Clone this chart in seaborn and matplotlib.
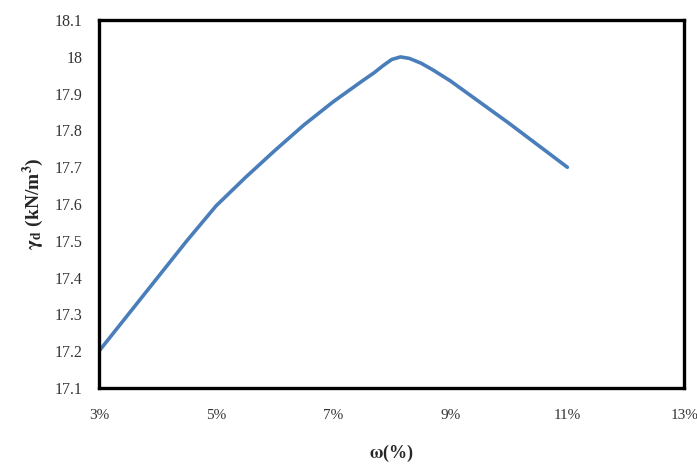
import pandas as pd
import seaborn as sns
import matplotlib.pyplot as plt
import numpy as np
from matplotlib.ticker import FuncFormatter, MultipleLocator

# water content (%) and dry unit weight (kN/m3)
moisture = [3, 4, 4.5, 5, 5.5, 6, 6.5, 7, 7.5, 7.7, 7.85, 8.0, 8.15, 8.3, 8.5, 8.7, 9, 10, 11]
gamma_d = [17.2, 17.40, 17.50, 17.595, 17.672, 17.745, 17.815, 17.878, 17.935, 17.957, 17.976,
           17.993, 18.0, 17.996, 17.983, 17.965, 17.935, 17.82, 17.7]
x_ticks = [3, 5, 7, 9, 11, 13]

df = pd.DataFrame({"w": moisture, "gd": gamma_d})

sns.set_style("white")
plt.rcParams['font.family'] = ['Liberation Serif', 'DejaVu Serif']
plt.rcParams['mathtext.fontset'] = 'stix'

fig = plt.figure(figsize=(6.97, 4.68), dpi=100)
ax = fig.add_axes([0.142, 0.171, 0.840, 0.786])

sns.lineplot(x="w", y="gd", data=df, color="#4a7ebb", linewidth=2.6,
             solid_capstyle="round", solid_joinstyle="round", ax=ax)

ax.set_xlim(3, 13)
ax.set_ylim(17.1, 18.1)
ax.set_xticks(x_ticks)
ax.yaxis.set_major_locator(MultipleLocator(0.1))
ax.xaxis.set_major_formatter(FuncFormatter(lambda v, p: "%d%%" % round(v)))
ax.yaxis.set_major_formatter(FuncFormatter(lambda v, p: "%g" % round(v, 1)))

for s in ax.spines.values():
    s.set_color("black")
    s.set_linewidth(2.4)

ax.tick_params(axis="x", direction="out", length=3, width=0.8, color="#aaaaaa",
               labelsize=11, labelcolor="#333333", pad=12)
ax.tick_params(axis="y", length=0, labelsize=11.5, labelcolor="#333333", pad=12)

ax.set_xlabel(r"$\mathbf{\omega}$(%)", fontsize=13, fontweight="bold", labelpad=15)
ax.set_ylabel(r"$\mathbf{\gamma_d}$ (kN/m$^\mathbf{3}$)", fontsize=14, fontweight="bold", labelpad=6)

plt.savefig("out.png", dpi=100)
